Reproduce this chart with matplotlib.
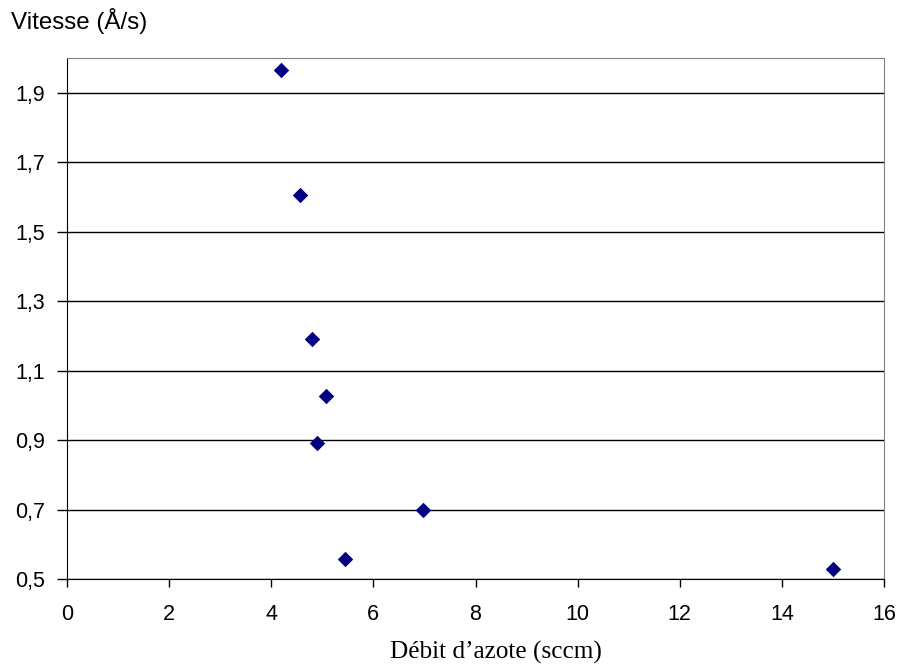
import matplotlib
matplotlib.use("Agg")
import matplotlib.pyplot as plt

# N2 flow (sccm) and deposition rate (A/s)
debit = [4.2, 4.57, 4.8, 5.08, 4.9, 6.98, 5.45, 15.0]
vitesse = [1.966, 1.607, 1.19, 1.027, 0.892, 0.699, 0.558, 0.529]

x_ticks = [0, 2, 4, 6, 8, 10, 12, 14, 16]
y_ticks = [0.5, 0.7, 0.9, 1.1, 1.3, 1.5, 1.7, 1.9]
y_labels = [f"{v:.1f}".replace(".", ",") for v in y_ticks]

fig = plt.figure(figsize=(8.99, 6.69), dpi=100)
ax = fig.add_axes([67 / 899, 90 / 669, 817 / 899, 521 / 669])

ax.scatter(debit, vitesse, marker="D", s=62, color="#000080", zorder=3,
           linewidths=0)

ax.set_xlim(0, 16)
ax.set_ylim(0.5, 2.0)
ax.set_xticks(x_ticks)
ax.set_yticks(y_ticks)
ax.set_yticklabels(y_labels)

ax.yaxis.grid(True, color="black", linewidth=1)
ax.set_axisbelow(True)

for side in ["top", "right"]:
    ax.spines[side].set_color("#808080")
for side in ["left", "bottom"]:
    ax.spines[side].set_color("black")

ax.tick_params(direction="out", width=1, color="black",
               labelsize=15.5, labelfontfamily="Liberation Sans")
ax.tick_params(axis="x", length=6, pad=12)
ax.tick_params(axis="y", length=7, pad=9)

# axis titles placed as free text, like the original chart
fig.text(496 / 899, 1 - 652 / 669, "Débit d’azote (sccm)", fontsize=18.2,
         family="Liberation Serif", va="center", ha="center")
fig.text(11 / 899, 1 - 21 / 669, "Vitesse (Å/s)", fontsize=17.4,
         family="Liberation Sans", va="center", ha="left")

fig.savefig("out.png", dpi=100)
